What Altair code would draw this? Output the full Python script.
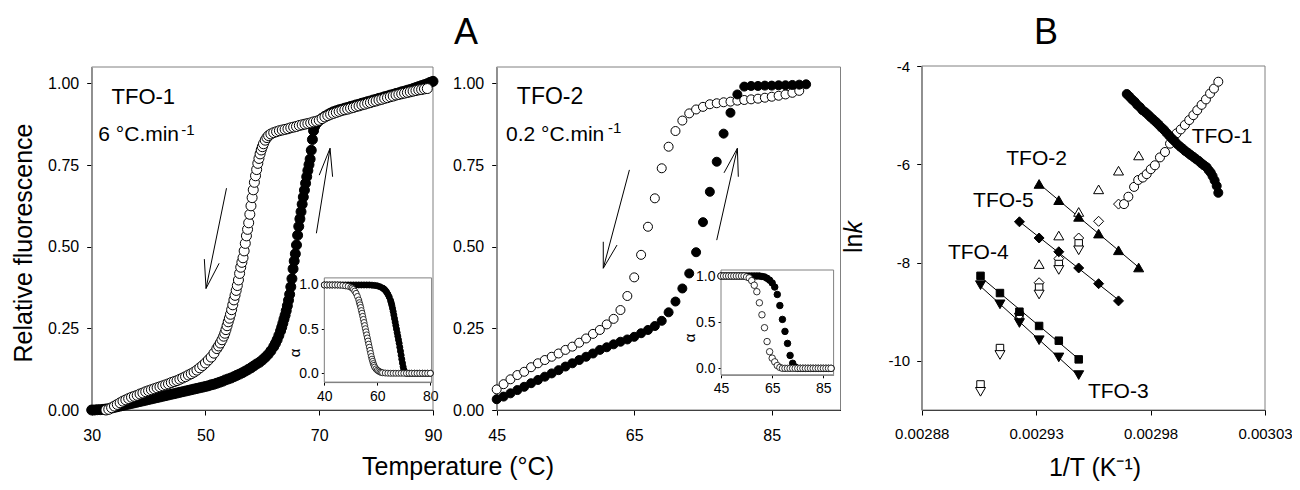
import altair as alt
import pandas as pd

FONT = "Liberation Sans"
W, H = 1284, 474

# ---------------- Panel A, TFO-1 (6 °C/min): (temperature, relative fluorescence) ----------------
A1_COOL = [(32.5,0.000),(33.0,0.002),(33.5,0.007),(34.0,0.012),(34.5,0.017),(35.0,0.022),(35.5,0.027),(36.0,0.031),
 (36.5,0.035),(37.0,0.039),(37.5,0.042),(38.0,0.045),(38.5,0.049),(39.0,0.052),(39.5,0.056),(40.0,0.059),(40.5,0.062),
 (41.0,0.065),(41.5,0.068),(42.0,0.071),(42.5,0.074),(43.0,0.077),(43.5,0.080),(44.0,0.084),(44.5,0.087),(45.0,0.090),
 (45.5,0.094),(46.0,0.098),(46.5,0.102),(47.0,0.107),(47.5,0.111),(48.0,0.116),(48.5,0.122),(49.0,0.129),(49.5,0.136),
 (50.0,0.144),(50.5,0.153),(51.0,0.162),(51.5,0.174),(52.0,0.188),(52.3,0.196),(52.6,0.205),(52.9,0.215),(53.2,0.226),
 (53.4,0.235),(53.6,0.246),(53.8,0.258),(54.0,0.270),(54.2,0.281),(54.4,0.293),(54.6,0.307),(54.8,0.322),(55.0,0.337),
 (55.2,0.351),(55.4,0.366),(55.6,0.381),(55.8,0.398),(56.0,0.418),(56.2,0.437),(56.4,0.452),(56.6,0.466),(56.8,0.487),
 (57.0,0.510),(57.2,0.533),(57.4,0.553),(57.6,0.573),(57.8,0.599),(58.0,0.625),(58.2,0.650),(58.4,0.674),(58.6,0.697),
 (58.8,0.717),(59.0,0.736),(59.2,0.755),(59.4,0.770),(59.6,0.784),(59.8,0.796),(60.0,0.806),(60.2,0.815),(60.5,0.826),
 (60.8,0.834),(61.1,0.840),(61.5,0.845),(62.0,0.849),(62.5,0.852),(63.0,0.855),(63.5,0.857),(64.0,0.859),(64.5,0.861),
 (65.0,0.864),(65.5,0.866),(66.0,0.868),(66.5,0.871),(67.0,0.873),(67.5,0.875),(68.0,0.877),(68.5,0.879),(69.0,0.882),
 (69.5,0.884),(70.0,0.887),(70.5,0.892),(71.0,0.897),(71.5,0.901),(72.0,0.905),(72.5,0.908),(73.0,0.911),(73.5,0.914),
 (74.0,0.917),(74.5,0.919),(75.0,0.921),(75.5,0.924),(76.0,0.926),(76.5,0.929),(77.0,0.931),(77.5,0.934),(78.0,0.936),
 (78.5,0.939),(79.0,0.941),(79.5,0.944),(80.0,0.946),(80.5,0.949),(81.0,0.951),(81.5,0.954),(82.0,0.956),(82.5,0.959),
 (83.0,0.961),(83.5,0.964),(84.0,0.966),(84.5,0.968),(85.0,0.970),(85.5,0.972),(86.0,0.974),(86.5,0.976),(87.0,0.978),
 (87.5,0.980),(88.0,0.981),(88.5,0.983),(89.0,0.984)]

A1_HEAT = [(30.0,0.000),(30.5,0.000),(31.0,0.001),(31.5,0.001),(32.0,0.002),(32.5,0.003),(33.0,0.004),(33.5,0.006),
 (34.0,0.008),(34.5,0.010),(35.0,0.012),(35.5,0.014),(36.0,0.016),(36.5,0.018),(37.0,0.020),(37.5,0.022),(38.0,0.024),
 (38.5,0.026),(39.0,0.028),(39.5,0.030),(40.0,0.032),(40.5,0.034),(41.0,0.036),(41.5,0.038),(42.0,0.040),(42.5,0.042),
 (43.0,0.044),(43.5,0.046),(44.0,0.048),(44.5,0.050),(45.0,0.052),(45.5,0.054),(46.0,0.056),(46.5,0.058),(47.0,0.060),
 (47.5,0.062),(48.0,0.064),(48.5,0.066),(49.0,0.068),(49.5,0.070),(50.0,0.072),(50.5,0.074),(51.0,0.077),(51.5,0.079),
 (52.0,0.082),(52.5,0.085),(53.0,0.088),(53.5,0.092),(54.0,0.095),(54.5,0.098),(55.0,0.102),(55.5,0.106),(56.0,0.110),
 (56.5,0.114),(57.0,0.119),(57.5,0.124),(58.0,0.129),(58.5,0.135),(59.0,0.141),(59.5,0.146),(60.0,0.153),(60.5,0.161),
 (61.0,0.170),(61.5,0.181),(62.0,0.194),(62.3,0.204),(62.6,0.215),(62.9,0.228),(63.2,0.242),(63.4,0.253),(63.6,0.265),
 (63.8,0.278),(64.0,0.290),(64.2,0.304),(64.4,0.319),(64.6,0.336),(64.8,0.354),(65.0,0.377),(65.2,0.402),(65.4,0.432),
 (65.6,0.456),(65.8,0.478),(66.0,0.505),(66.2,0.535),(66.4,0.562),(66.6,0.585),(66.8,0.607),(67.0,0.630),(67.2,0.652),
 (67.4,0.673),(67.6,0.694),(67.8,0.714),(68.0,0.733),(68.2,0.751),(68.4,0.768),(68.6,0.795),(68.8,0.828),(69.0,0.855),
 (69.2,0.868),(69.5,0.877),(70.0,0.886),(70.5,0.893),(71.0,0.899),(71.5,0.904),(72.0,0.909),(72.5,0.913),(73.0,0.916),
 (73.5,0.919),(74.0,0.921),(74.5,0.924),(75.0,0.926),(75.5,0.929),(76.0,0.931),(76.5,0.934),(77.0,0.936),(77.5,0.939),
 (78.0,0.941),(78.5,0.944),(79.0,0.946),(79.5,0.949),(80.0,0.951),(80.5,0.954),(81.0,0.956),(81.5,0.959),(82.0,0.961),
 (82.5,0.964),(83.0,0.966),(83.5,0.969),(84.0,0.971),(84.5,0.974),(85.0,0.976),(85.5,0.979),(86.0,0.981),(86.5,0.984),
 (87.0,0.987),(87.5,0.990),(88.0,0.993),(88.5,0.996),(89.0,0.999),(89.5,1.003),(90.0,1.006)]

# inset of TFO-1: (temperature, alpha)
IN1_COOL = [(40,1.0),(41,1.0),(42,1.0),(43,1.0),(44,1.0),(45,1.0),(46,0.998),(47,0.995),(48,0.99),(49,0.985),(50,0.975),
 (50.5,0.965),(51,0.95),(51.5,0.93),(52,0.905),(52.5,0.87),(53,0.83),(53.25,0.80),(53.5,0.775),(53.75,0.745),(54,0.71),
 (54.25,0.68),(54.5,0.645),(54.75,0.61),(55,0.575),(55.25,0.54),(55.5,0.505),(55.75,0.47),(56,0.435),(56.25,0.40),
 (56.5,0.365),(56.75,0.33),(57,0.295),(57.25,0.26),(57.5,0.225),(57.75,0.19),(58,0.16),(58.25,0.135),(58.5,0.11),
 (58.75,0.09),(59,0.07),(59.5,0.05),(60,0.035),(60.5,0.025),(61,0.015),(61.5,0.01),(62,0.006),(63,0.003),(64,0.001),
 (65,0.0),(66,0.0),(67,0.0),(68,0.0),(69,0.0),(70,0.0),(71,0.0),(72,0.0),(73,0.0),(74,0.0),(75,0.0),(76,0.0),(77,0.0),
 (78,0.0),(79,0.0),(80,0.0)]
IN1_HEAT = [(40,1.0),(41,1.0),(42,1.0),(43,1.0),(44,1.0),(45,1.0),(46,1.0),(47,1.0),(48,1.0),(49,1.0),(50,1.0),(51,1.0),
 (52,1.0),(53,1.0),(54,1.0),(55,1.0),(56,1.0),(57,1.0),(58,0.998),(59,0.995),(60,0.99),(61,0.98),(62,0.965),(62.5,0.955),
 (63,0.94),(63.5,0.92),(64,0.895),(64.5,0.865),(65,0.825),(65.25,0.80),(65.5,0.77),(65.75,0.735),(66,0.70),(66.25,0.66),
 (66.5,0.62),(66.75,0.58),(67,0.54),(67.25,0.50),(67.5,0.46),(67.75,0.42),(68,0.38),(68.25,0.34),(68.5,0.295),
 (68.75,0.25),(69,0.205),(69.25,0.16),(69.5,0.115),(69.75,0.075),(70,0.04),(70.25,0.02),(70.5,0.008),(71,0.0),(72,0.0),
 (73,0.0),(74,0.0),(75,0.0),(76,0.0),(77,0.0),(78,0.0),(79,0.0),(80,0.0)]

# ---------------- Panel A, TFO-2 (0.2 °C/min) ----------------
A2_COOL_T = list(range(45, 90))
A2_COOL = [0.063,0.079,0.094,0.107,0.117,0.131,0.143,0.153,0.163,0.173,
           0.184,0.194,0.206,0.219,0.233,0.245,0.262,0.279,0.306,0.349,
           0.406,0.475,0.561,0.648,0.740,0.806,0.854,0.886,0.908,0.920,
           0.928,0.936,0.939,0.942,0.944,0.947,0.949,0.951,0.953,0.956,
           0.959,0.962,0.966,0.971,0.977]
A2_HEAT_T = list(range(45, 91))
A2_HEAT = [0.033,0.041,0.051,0.061,0.071,0.082,0.092,0.102,0.112,0.122,
           0.133,0.143,0.153,0.163,0.173,0.184,0.192,0.201,0.209,0.216,
           0.224,0.235,0.245,0.257,0.273,0.299,0.332,0.372,0.418,0.483,
           0.575,0.668,0.760,0.846,0.910,0.966,0.990,0.992,0.992,0.993,
           0.993,0.994,0.994,0.995,0.996,0.997]

IN2_T = list(range(45, 89))
IN2_COOL = [1.0,1.0,1.0,1.0,1.0,1.0,1.0,1.0,1.0,1.0,
            0.99,0.98,0.95,0.90,0.83,0.71,0.58,0.44,0.29,0.18,0.11,0.07,0.03,0.01,
            0.0,0.0,0.0,0.0,0.0,0.0,0.0,0.0,0.0,0.0,0.0,0.0,0.0,0.0,0.0,0.0,0.0,0.0,0.0,0.0]
IN2_HEAT = [1.0,1.0,1.0,1.0,1.0,1.0,1.0,1.0,1.0,1.0,1.0,1.0,1.0,1.0,1.0,1.0,
            0.995,0.99,0.975,0.955,0.925,0.88,0.80,0.68,0.53,0.40,0.27,0.14,0.055,0.015,
            0.0,0.0,0.0,0.0,0.0,0.0,0.0,0.0,0.0,0.0,0.0,0.0,0.0,0.0]

# ---------------- Panel B: (1/T, ln k) ----------------
B_TFO1_FILLED = [(0.0029696,-4.57),(0.0029707,-4.62),(0.0029719,-4.68),(0.0029731,-4.73),(0.0029742,-4.79),
 (0.0029754,-4.84),(0.0029765,-4.90),(0.0029777,-4.94),(0.0029789,-4.99),(0.0029800,-5.04),(0.0029812,-5.09),
 (0.0029824,-5.14),(0.0029835,-5.19),(0.0029847,-5.25),(0.0029859,-5.30),(0.0029870,-5.36),(0.0029882,-5.42),
 (0.0029894,-5.48),(0.0029905,-5.53),(0.0029917,-5.59),(0.0029929,-5.64),(0.0029940,-5.68),(0.0029952,-5.73),
 (0.0029964,-5.77),(0.0029975,-5.81),(0.0029987,-5.85),(0.0029998,-5.89),(0.0030010,-5.93),(0.0030022,-5.98),
 (0.0030033,-6.02),(0.0030045,-6.06),(0.0030054,-6.12),(0.0030063,-6.17),(0.0030071,-6.24),(0.0030080,-6.33),
 (0.0030089,-6.44),(0.0030096,-6.58)]
B_TFO1_OPEN = [(0.0029684,-6.81),(0.0029703,-6.66),(0.0029728,-6.46),(0.0029746,-6.32),(0.0029766,-6.27),
 (0.0029783,-6.20),(0.0029801,-6.10),(0.0029819,-6.02),(0.0029841,-5.86),(0.0029863,-5.75),(0.0029885,-5.58),
 (0.0029899,-5.47),(0.0029914,-5.37),(0.0029932,-5.29),(0.0029950,-5.20),(0.0029969,-5.10),(0.0029987,-5.00),
 (0.0030004,-4.90),(0.0030023,-4.79),(0.0030042,-4.68),(0.0030060,-4.56),(0.0030077,-4.46),(0.0030096,-4.32)]
B_TFO2 = [(0.0029748,-8.10),(0.0029660,-7.75),(0.0029573,-7.41),(0.0029486,-7.07),(0.0029399,-6.73),(0.0029313,-6.40)]
B_TFO5 = [(0.0029660,-8.78),(0.0029573,-8.43),(0.0029486,-8.11),(0.0029399,-7.78),(0.0029313,-7.50),(0.0029227,-7.17)]
B_TFO4 = [(0.0029486,-9.97),(0.0029399,-9.59),(0.0029313,-9.29),(0.0029227,-9.00),(0.0029142,-8.62),(0.0029057,-8.27)]
B_TFO3 = [(0.0029486,-10.29),(0.0029399,-9.93),(0.0029313,-9.58),(0.0029227,-9.23),(0.0029142,-8.85),(0.0029057,-8.46)]
B_OPEN_TRI_UP = [(0.0029748,-5.82),(0.0029660,-6.13),(0.0029573,-6.51),(0.0029486,-6.97),(0.0029399,-7.45),(0.0029313,-8.03)]
B_OPEN_DIAMOND = [(0.0029660,-6.81),(0.0029573,-7.16),(0.0029486,-7.50),(0.0029399,-7.92),(0.0029313,-8.41)]
B_OPEN_SQUARE = [(0.0029486,-7.61),(0.0029399,-8.03),(0.0029313,-8.51),(0.0029227,-9.07),(0.0029142,-9.74),(0.0029057,-10.48)]
B_OPEN_TRI_DOWN = [(0.0029486,-7.75),(0.0029399,-8.15),(0.0029313,-8.65),(0.0029227,-9.12),(0.0029142,-9.88),(0.0029057,-10.63)]

# annotations (data coordinates of each panel)
A1_ARROWS = [(53.7,0.679,50.1,0.372),(50.1,0.372,49.8,0.462),(50.1,0.372,52.4,0.449),
             (69.5,0.541,71.9,0.801),(71.9,0.801,70.0,0.719),(71.9,0.801,72.35,0.714)]
A2_ARROWS = [(64.3,0.735,60.5,0.434),(60.5,0.434,60.5,0.515),(60.5,0.434,62.5,0.505),
             (77.0,0.520,80.0,0.801),(80.0,0.801,78.06,0.726),(80.0,0.801,80.14,0.714)]
B_LABELS = [("TFO-1",0.0030112,-5.44),("TFO-2",0.0029302,-5.90),("TFO-5",0.0029157,-6.74),
            ("TFO-4",0.0029047,-7.80),("TFO-3",0.0029659,-10.63)]

# ---------------- scales (pixel ranges inside the 1284x474 canvas) ----------------
def sc(dom, rng):
    return alt.Scale(domain=dom, range=rng, nice=False, zero=False)

XA1, YA1 = sc([30, 90], [83.7, 425.0]), sc([0, 1.05], [402, 59])
XI1, YI1 = sc([40, 80.5], [316.3, 423.6]), sc([-0.1, 1.08], [374.1, 269.9])
XA2, YA2 = sc([45, 95], [488.7, 832.5]), sc([0, 1.05], [402, 59])
XI2, YI2 = sc([45, 89], [713.0, 825.6]), sc([-0.07, 1.065], [366.8, 262.0])
XB, YB = sc([0.00288, 0.00303], [913.7, 1257.0]), sc([-11, -4], [402, 58])

def ax(orient, offset, values, fmt=None, size=16, tick=5, pad=6, **kw):
    d = dict(orient=orient, offset=offset, values=values, labelFontSize=size, tickSize=tick,
             labelPadding=pad, grid=False, labelFlush=False, labelOverlap=False,
             title=kw.pop("title", ""))
    if fmt:
        d["format"] = fmt
    d.update(kw)
    return alt.Axis(**d)

AX_X_A1 = ax("bottom", -72, [30, 50, 70, 90], "d", pad=12)
AX_Y_A1 = ax("left", -83.7, [0, 0.25, 0.5, 0.75, 1.0], ".2f", pad=8, domainColor="#666666")
AX_X_A2 = ax("bottom", -72, [45, 65, 85], "d", pad=12)
AX_Y_A2 = ax("left", -488.7, [0, 0.25, 0.5, 0.75, 1.0], ".2f", pad=8, domainColor="#666666")
AX_X_I1 = ax("bottom", -99.9, [40, 60, 80], "d", size=14, tick=3, pad=4, domainColor="#777777")
AX_Y_I1 = ax("left", -316.3, [0, 0.5, 1.0], ".1f", size=14, tick=3, pad=3, domainColor="#777777")
AX_X_I2 = ax("bottom", -107.2, [45, 65, 85], "d", size=14, tick=3, pad=4, domainColor="#777777")
AX_Y_I2 = ax("left", -713, [0, 0.5, 1.0], ".1f", size=14, tick=3, pad=3, domainColor="#777777")
AX_X_B = ax("bottom", -72, [0.00288, 0.00293, 0.00298, 0.00303], ".5f", size=15, pad=11)
AX_Y_B = ax("left", -913.7, [-10, -8, -6, -4], size=15, pad=7, labelExpr="'' + datum.value",
            domainColor="#666666")

def enc(xs, ys, xa, ya):
    return dict(x=alt.X("x:Q", scale=xs, axis=xa), y=alt.Y("y:Q", scale=ys, axis=ya))

def pts(pairs, P, shape="circle", filled=True, size=100, sw=1.0):
    df = pd.DataFrame(pairs, columns=["x", "y"])
    return alt.Chart(df).mark_point(shape=shape, filled=True, fill="black" if filled else "white",
                                    stroke="black", strokeWidth=sw, size=size, opacity=1).encode(**enc(*P))

def frame(x0, x1, y0, y1, P, fill_white=False, color="#808080"):
    df = pd.DataFrame([{"x": x0, "x2": x1, "y": y0, "y2": y1}])
    m = alt.Chart(df).mark_rect(fill="white", fillOpacity=1 if fill_white else 0,
                                stroke=color, strokeWidth=1)
    return m.encode(**enc(*P), x2="x2:Q", y2="y2:Q")

def arrows(segs, P):
    df = pd.DataFrame(segs, columns=["x", "y", "x2", "y2"])
    return alt.Chart(df).mark_rule(color="black", strokeWidth=1).encode(**enc(*P), x2="x2:Q", y2="y2:Q")

def label(text, x, y, P, size, align="center", style="normal", angle=0):
    df = pd.DataFrame([{"x": x, "y": y}])
    return alt.Chart(df).mark_text(text=text, fontSize=size, align=align, baseline="middle",
                                   font=FONT, fontStyle=style, color="black", angle=angle).encode(**enc(*P))

PA1 = (XA1, YA1, AX_X_A1, AX_Y_A1)
PI1 = (XI1, YI1, AX_X_I1, AX_Y_I1)
PA2 = (XA2, YA2, AX_X_A2, AX_Y_A2)
PI2 = (XI2, YI2, AX_X_I2, AX_Y_I2)
PB = (XB, YB, AX_X_B, AX_Y_B)

panelA1 = alt.layer(
    frame(30, 90, 0, 1.05, PA1),
    pts(A1_HEAT, PA1, size=100),
    pts(A1_COOL, PA1, filled=False, size=100, sw=1.0),
    arrows(A1_ARROWS, PA1),
    label("TFO-1", 39.07, 0.959, PA1, 22),
    label("6 °C.min", 31.16, 0.842, PA1, 21, align="left"),
    label("-1", 45.75, 0.856, PA1, 15, align="left"),
)
insetA1 = alt.layer(
    frame(40, 80.5, -0.1, 1.08, PI1, fill_white=True),
    pts(IN1_HEAT, PI1, size=36),
    pts(IN1_COOL, PI1, filled=False, size=36, sw=0.8),
)
panelA2 = alt.layer(
    frame(45, 95, 0, 1.05, PA2),
    pts(list(zip(A2_COOL_T, A2_COOL)), PA2, filled=False, size=81),
    pts(list(zip(A2_HEAT_T, A2_HEAT)), PA2, size=81),
    arrows(A2_ARROWS, PA2),
    label("TFO-2", 52.76, 0.959, PA2, 23),
    label("0.2 °C.min", 46.35, 0.842, PA2, 21, align="left"),
    label("-1", 61.2, 0.862, PA2, 15, align="left"),
)
insetA2 = alt.layer(
    frame(45, 89, -0.07, 1.065, PI2, fill_white=True),
    pts(list(zip(IN2_T, IN2_HEAT)), PI2, size=42),
    pts(list(zip(IN2_T, IN2_COOL)), PI2, filled=False, size=42, sw=0.8),
)

reg_rows = []
for name, s in [("TFO-2", B_TFO2), ("TFO-5", B_TFO5), ("TFO-4", B_TFO4), ("TFO-3", B_TFO3)]:
    reg_rows += [{"x": a, "y": b, "series": name} for a, b in s]
reg = alt.Chart(pd.DataFrame(reg_rows)).transform_regression(
    "x", "y", groupby=["series"]).mark_line(color="black", strokeWidth=1).encode(
    **enc(*PB), detail="series:N")

panelB = alt.layer(
    frame(0.00288, 0.00303, -11, -4, PB),
    reg,
    pts(B_OPEN_TRI_UP, PB, "triangle-up", False, 100),
    pts(B_OPEN_DIAMOND, PB, "diamond", False, 100),
    pts(B_OPEN_SQUARE, PB, "square", False, 56),
    pts(B_OPEN_TRI_DOWN, PB, "triangle-down", False, 100),
    pts(B_TFO2, PB, "triangle-up", True, 100),
    pts(B_TFO5, PB, "diamond", True, 100),
    pts(B_TFO4, PB, "square", True, 56),
    pts(B_TFO3, PB, "triangle-down", True, 100),
    pts(B_TFO1_OPEN, PB, "circle", False, 81),
    pts(B_TFO1_FILLED, PB, "circle", True, 81),
    *[label(t, a, b, PB, 21) for t, a, b in B_LABELS],
)

dummy = pd.DataFrame([{"k": 0}])
def ptext(text, x, y, size, angle=0, align="center", baseline="alphabetic", style="normal"):
    return alt.Chart(dummy).mark_text(text=text, fontSize=size, angle=angle, align=align,
                                      baseline=baseline, font=FONT, fontStyle=style,
                                      color="black").encode(x=alt.value(x), y=alt.value(y))

titles = alt.layer(
    ptext("A", 458, 35.5, 36),
    ptext("B", 1038, 36, 36),
    ptext("Temperature (°C)", 450, 459, 25, baseline="middle"),
    ptext("1/T (K⁻¹)", 1087, 460, 25, baseline="middle"),
    ptext("Relative fluorescence", 16, 235, 25, angle=270, baseline="middle"),
    ptext("α", 286.5, 345, 15, angle=270, baseline="middle"),
    ptext("α", 682, 330, 15, angle=270, baseline="middle"),
    ptext("ln", 846, 245, 25, angle=270, align="left", baseline="middle"),
    ptext("k", 846, 225.5, 25, angle=270, align="left", baseline="middle", style="italic"),
)

chart = alt.layer(panelA1, insetA1, panelA2, insetA2, panelB, titles).resolve_scale(
    x="independent", y="independent").resolve_axis(x="independent", y="independent").properties(
    width=W, height=H, autosize=alt.AutoSizeParams(type="none"), padding=0
).configure_view(strokeWidth=0).configure_axis(
    labelFont=FONT, titleFont=FONT, labelColor="black", titleColor="black", tickColor="black",
    domainColor="black", titleFontWeight="normal", grid=False
).configure_text(font=FONT)

chart.save("out.html", embed_options={"renderer": "svg", "actions": False})
